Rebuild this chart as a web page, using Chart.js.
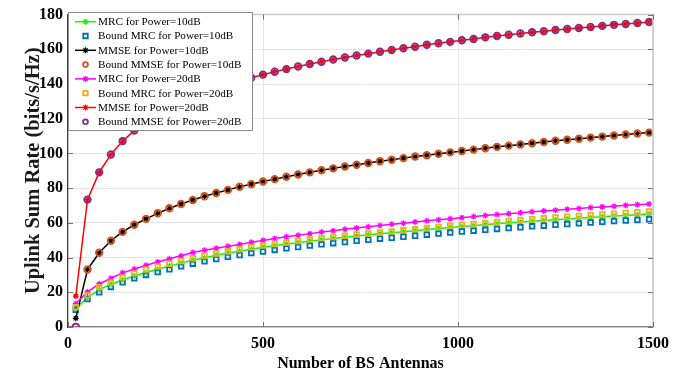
<!DOCTYPE html>
<html lang="en">
<head>
    <meta charset="UTF-8">
    <title>Uplink Sum Rate vs Number of BS Antennas</title>
    <script src="https://cdn.jsdelivr.net/npm/chart.js"></script>
    <style>
        body {
            margin: 0;
            padding: 0;
            background: #ffffff;
        }

        .wrap {
            position: relative;
            width: 695px;
            height: 375px;
        }
    </style>
</head>
<body>
    <div class="wrap">
        <canvas id="rateChart"></canvas>
    </div>

    <script>
        // number of BS antennas (x positions of every marker)
        const antennas = [20, 50, 80, 110, 140, 170, 200, 230, 260, 290, 320, 350, 380, 410, 440, 470, 500,
            530, 560, 590, 620, 650, 680, 710, 740, 770, 800, 830, 860, 890, 920, 950, 980, 1010, 1040,
            1070, 1100, 1130, 1160, 1190, 1220, 1250, 1280, 1310, 1340, 1370, 1400, 1430, 1460, 1490];

        const mrc10 = [10.7, 17.0, 21.5, 24.6, 27.2, 29.4, 31.4, 33.3, 35.1, 36.8, 38.4, 39.9, 41.3, 42.6,
            43.7, 44.8, 45.9, 46.8, 47.8, 48.6, 49.5, 50.2, 51.0, 51.7, 52.4, 53.1, 53.7, 54.3, 54.9, 55.5,
            56.2, 56.8, 57.3, 57.9, 58.4, 59.0, 59.5, 60.0, 60.5, 60.9, 61.4, 61.8, 62.3, 62.7, 63.1, 63.5,
            63.9, 64.3, 64.7, 65.1];
        const boundMrc10 = [9.9, 16.1, 20.0, 23.1, 25.8, 28.1, 30.0, 31.7, 33.3, 35.0, 36.5, 37.9, 39.2,
            40.4, 41.5, 42.6, 43.5, 44.4, 45.3, 46.1, 46.9, 47.6, 48.3, 49.0, 49.7, 50.3, 50.9, 51.4, 52.0,
            52.6, 53.2, 53.8, 54.4, 55.0, 55.5, 56.0, 56.5, 57.0, 57.5, 58.0, 58.4, 58.9, 59.3, 59.7, 60.2,
            60.6, 61.0, 61.4, 61.7, 62.1];
        const mmse10 = [5.0, 33.1, 42.8, 49.7, 54.8, 58.9, 62.3, 65.5, 68.4, 70.9, 73.2, 75.3, 77.2, 79.0,
            80.8, 82.3, 83.8, 85.2, 86.6, 87.9, 89.1, 90.3, 91.4, 92.5, 93.5, 94.5, 95.5, 96.4, 97.3, 98.2,
            99.0, 99.8, 100.6, 101.4, 102.2, 103.0, 103.8, 104.5, 105.2, 105.9, 106.6, 107.3, 107.9, 108.5,
            109.1, 109.7, 110.3, 110.9, 111.5, 112.0];
        const boundMmse10 = [0, 33.1, 42.8, 49.7, 54.8, 58.9, 62.3, 65.5, 68.4, 70.9, 73.2, 75.3, 77.2, 79.0,
            80.8, 82.3, 83.8, 85.2, 86.6, 87.9, 89.1, 90.3, 91.4, 92.5, 93.5, 94.5, 95.5, 96.4, 97.3, 98.2,
            99.0, 99.8, 100.6, 101.4, 102.2, 103.0, 103.8, 104.5, 105.2, 105.9, 106.6, 107.3, 107.9, 108.5,
            109.1, 109.7, 110.3, 110.9, 111.5, 112.0];
        const mrc20 = [13.5, 20.2, 24.8, 28.1, 31.2, 33.4, 35.6, 37.5, 39.3, 41.0, 42.9, 44.2, 45.4, 46.5,
            47.6, 48.8, 49.9, 51.0, 52.0, 52.9, 53.8, 54.7, 55.5, 56.3, 57.1, 57.8, 58.5, 59.2, 59.8, 60.5,
            61.2, 61.8, 62.4, 63.0, 63.6, 64.2, 64.8, 65.3, 65.8, 66.4, 66.9, 67.3, 67.8, 68.3, 68.8, 69.2,
            69.6, 70.1, 70.5, 70.9];
        const boundMrc20 = [11.4, 18.3, 22.9, 25.6, 28.5, 30.9, 33.1, 34.9, 36.5, 38.0, 39.6, 41.1, 42.4,
            43.6, 44.8, 45.9, 46.9, 47.8, 48.7, 49.6, 50.4, 51.2, 51.9, 52.6, 53.3, 53.9, 54.5, 55.1, 55.7,
            56.4, 57.0, 57.7, 58.3, 58.9, 59.4, 60.0, 60.5, 61.1, 61.6, 62.1, 62.6, 63.1, 63.5, 64.0, 64.4,
            64.9, 65.3, 65.7, 66.1, 66.5];
        const mmse20 = [17.8, 73.4, 89.1, 99.4, 107.1, 113.2, 118.2, 122.5, 126.2, 129.5, 132.4, 135.0,
            137.5, 139.7, 141.7, 143.6, 145.4, 147.1, 148.6, 150.1, 151.5, 152.8, 154.1, 155.3, 156.4, 157.5,
            158.6, 159.6, 160.6, 161.5, 162.6, 163.5, 164.3, 165.2, 165.9, 166.9, 167.7, 168.4, 169.1, 169.8,
            170.4, 171.1, 171.7, 172.3, 172.9, 173.5, 174.1, 174.6, 175.2, 175.7];
        const boundMmse20 = [0, 73.4, 89.1, 99.4, 107.1, 113.2, 118.2, 122.5, 126.2, 129.5, 132.4, 135.0,
            137.5, 139.7, 141.7, 143.6, 145.4, 147.1, 148.6, 150.1, 151.5, 152.8, 154.1, 155.3, 156.4, 157.5,
            158.6, 159.6, 160.6, 161.5, 162.6, 163.5, 164.3, 165.2, 165.9, 166.9, 167.7, 168.4, 169.1, 169.8,
            170.4, 171.1, 171.7, 172.3, 172.9, 173.5, 174.1, 174.6, 175.2, 175.7];

        const xTicks = [0, 500, 1000, 1500];
        const yTicks = [0, 20, 40, 60, 80, 100, 120, 140, 160, 180];

        const seriesLabels = [
            'MRC for Power=10dB', 'Bound MRC for Power=10dB', 'MMSE for Power=10dB', 'Bound MMSE for Power=10dB',
            'MRC for Power=20dB', 'Bound MRC for Power=20dB', 'MMSE for Power=20dB', 'Bound MMSE for Power=20dB'
        ];
        const seriesValues = [mrc10, boundMrc10, mmse10, boundMmse10, mrc20, boundMrc20, mmse20, boundMmse20];

        // look of each series: line or markers only
        const styles = [
            { color: '#00ff00', line: true, marker: 'star' },
            { color: '#0072bd', line: false, marker: 'rect' },
            { color: '#000000', line: true, marker: 'star' },
            { color: '#d95319', line: false, marker: 'circle' },
            { color: '#ff00ff', line: true, marker: 'star' },
            { color: '#edb120', line: false, marker: 'rect' },
            { color: '#ff0000', line: true, marker: 'star' },
            { color: '#7e2f8e', line: false, marker: 'circle' },
        ];

        const serif = '"Liberation Serif", "Times New Roman", serif';

        const datasets = seriesValues.map((vals, i) => {
            const s = styles[i];
            return {
                label: seriesLabels[i],
                data: antennas.map((a, k) => ({ x: a, y: vals[k] })),
                showLine: s.line,
                borderColor: s.color,
                backgroundColor: 'rgba(0,0,0,0)',
                borderWidth: 1.5,
                pointStyle: s.marker,
                pointRadius: s.marker === 'star' ? 3 : 3.3,
                pointBorderWidth: s.marker === 'star' ? 1.2 : 1.8,
                pointBorderColor: s.color,
                pointBackgroundColor: 'rgba(0,0,0,0)',
                tension: 0,
                order: 7 - i, // later series drawn on top, like the original plot
            };
        });

        function drawMarker(ctx, type, x, y, r) {
            ctx.beginPath();
            if (type === 'star') {
                ctx.moveTo(x - r, y); ctx.lineTo(x + r, y);
                ctx.moveTo(x, y - r); ctx.lineTo(x, y + r);
                const d = r * 0.707;
                ctx.moveTo(x - d, y - d); ctx.lineTo(x + d, y + d);
                ctx.moveTo(x - d, y + d); ctx.lineTo(x + d, y - d);
            } else if (type === 'rect') {
                ctx.rect(x - r * 0.75, y - r * 0.75, r * 1.5, r * 1.5);
            } else {
                ctx.arc(x, y, r * 0.8, 0, Math.PI * 2);
            }
            ctx.stroke();
        }

        // box border, inward ticks and the legend in the upper left corner
        const framePlugin = {
            id: 'frame',
            afterDraw(chart) {
                const { ctx, chartArea: a, scales } = chart;
                ctx.save();
                ctx.strokeStyle = '#c8c8c8';
                ctx.lineWidth = 1.5;
                ctx.beginPath();
                ctx.moveTo(a.left, a.top); ctx.lineTo(a.right, a.top); ctx.lineTo(a.right, a.bottom);
                ctx.stroke();

                ctx.strokeStyle = '#707070';
                ctx.lineWidth = 1;
                ctx.beginPath();
                xTicks.forEach(v => {
                    const px = Math.round(scales.x.getPixelForValue(v)) + 0.5;
                    ctx.moveTo(px, a.bottom); ctx.lineTo(px, a.bottom - 5);
                    ctx.moveTo(px, a.top); ctx.lineTo(px, a.top + 5);
                });
                yTicks.forEach(v => {
                    const py = Math.round(scales.y.getPixelForValue(v)) + 0.5;
                    ctx.moveTo(a.left, py); ctx.lineTo(a.left + 5, py);
                    ctx.moveTo(a.right, py); ctx.lineTo(a.right - 5, py);
                });
                ctx.stroke();

                // legend
                const lx = 68, ly = 12, lw = 184, lh = 118, rowH = 14.3;
                ctx.fillStyle = '#ffffff';
                ctx.fillRect(lx, ly, lw, lh);
                ctx.strokeStyle = '#8c8c8c';
                ctx.lineWidth = 1;
                ctx.strokeRect(lx + 0.5, ly + 0.5, lw, lh);
                ctx.font = '11.2px ' + serif;
                ctx.textBaseline = 'middle';
                seriesLabels.forEach((label, i) => {
                    const s = styles[i];
                    const y = ly + 9.7 + i * rowH;
                    ctx.strokeStyle = s.color;
                    ctx.lineWidth = 1.5;
                    if (s.line) {
                        ctx.beginPath();
                        ctx.moveTo(75, y); ctx.lineTo(96, y);
                        ctx.stroke();
                        ctx.lineWidth = 1.2;
                    } else {
                        ctx.lineWidth = 1.8;
                    }
                    drawMarker(ctx, s.marker, 85.5, y, 3);
                    ctx.fillStyle = '#000000';
                    ctx.fillText(label, 98, y + 0.5);
                });
                ctx.restore();
            }
        };

        const ctx = document.getElementById('rateChart').getContext('2d');
        const rateChart = new Chart(ctx, {
            type: 'line',
            data: { datasets: datasets },
            options: {
                responsive: true,
                maintainAspectRatio: false,
                animation: false,
                layout: { padding: { top: 13, right: 42, left: 0, bottom: 0 } },
                plugins: {
                    legend: { display: false },
                    tooltip: { enabled: false },
                },
                scales: {
                    x: {
                        type: 'linear',
                        min: 0,
                        max: 1500,
                        afterBuildTicks: (scale) => { scale.ticks = xTicks.map(v => ({ value: v })); },
                        afterFit: (scale) => { scale.height = 48; },
                        ticks: {
                            color: '#000000',
                            padding: 7,
                            maxRotation: 0,
                            callback: (v) => String(v),
                            font: { family: serif, size: 16, weight: 'bold' },
                        },
                        grid: { color: '#e6e6e6', drawTicks: false },
                        border: { color: '#808080', width: 1.2 },
                        title: {
                            display: true,
                            text: 'Number of BS Antennas',
                            color: '#000000',
                            padding: { top: 0, bottom: 2 },
                            font: { family: serif, size: 16, weight: 'bold' },
                        },
                    },
                    y: {
                        min: 0,
                        max: 180,
                        afterBuildTicks: (scale) => { scale.ticks = yTicks.map(v => ({ value: v })); },
                        afterFit: (scale) => { scale.width = 68; },
                        ticks: {
                            color: '#000000',
                            padding: 5,
                            callback: (v) => String(v),
                            font: { family: serif, size: 16, weight: 'bold' },
                        },
                        grid: { color: '#e6e6e6', drawTicks: false },
                        border: { color: '#404040', width: 1.2 },
                        title: {
                            display: true,
                            text: 'Uplink Sum Rate (bits/s/Hz)',
                            color: '#1a1a1a',
                            padding: { top: 21, bottom: 0 },
                            font: { family: serif, size: 20.5, weight: 'bold' },
                        },
                    },
                },
            },
            plugins: [framePlugin],
        });
    </script>
</body>
</html>
